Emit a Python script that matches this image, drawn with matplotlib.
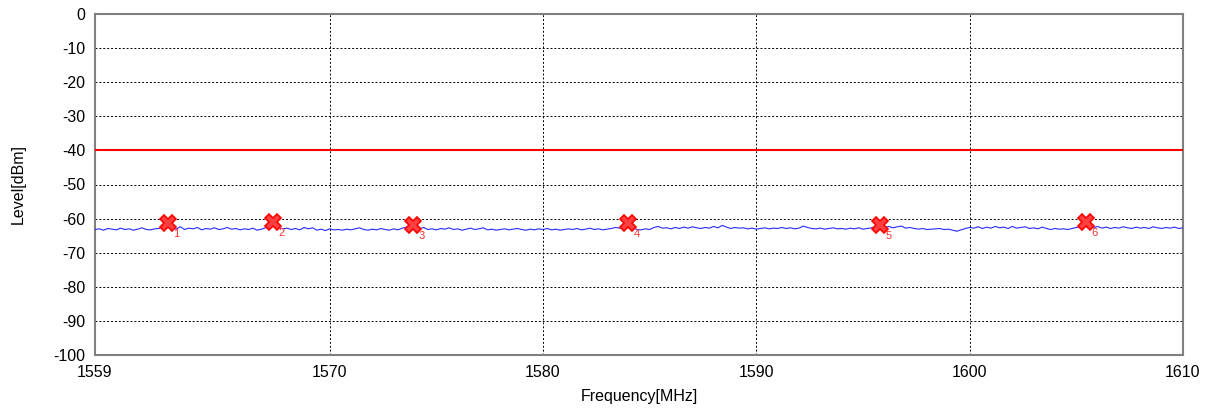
import numpy as np
import matplotlib
matplotlib.use("Agg")
import matplotlib.pyplot as plt

# ---- data ----
f_start, f_stop, f_step = 1559.0, 1610.0, 0.2
trace_dbm = [
    -63.2,-63.0,-63.4,-62.9,-63.1,-63.3,-62.8,-63.2,-63.0,-63.4,-63.1,-62.7,-63.2,-63.3,-63.0,-62.9,
    -62.5,-62.0,-62.6,-63.1,-62.4,-63.2,-62.8,-63.0,-62.6,-63.3,-62.9,-63.1,-62.7,-63.2,-63.0,-62.6,
    -63.1,-62.9,-63.3,-63.0,-63.2,-62.8,-63.4,-63.1,-62.7,-62.5,-62.2,-62.6,-63.0,-62.8,-63.2,-62.9,
    -63.3,-62.6,-63.0,-62.7,-63.4,-63.1,-63.5,-63.0,-63.3,-63.2,-63.4,-63.1,-63.3,-63.0,-62.7,-63.2,
    -63.4,-63.1,-63.3,-62.9,-63.2,-63.4,-63.0,-63.3,-62.8,-62.5,-62.3,-62.7,-63.1,-62.6,-63.2,-63.0,
    -63.3,-62.9,-63.1,-62.7,-63.2,-63.0,-63.4,-63.1,-62.8,-63.2,-63.0,-62.7,-63.3,-63.1,-63.4,-63.2,
    -63.0,-63.3,-63.1,-62.9,-63.2,-63.4,-63.1,-63.3,-63.0,-63.2,-62.9,-63.3,-63.1,-63.4,-63.2,-63.0,
    -63.2,-62.9,-63.3,-63.1,-62.8,-63.2,-63.0,-63.3,-63.1,-62.9,-62.6,-62.8,-62.5,-62.1,-62.6,-63.2,
    -63.3,-63.0,-63.2,-62.6,-62.3,-62.8,-62.7,-63.0,-62.6,-62.9,-62.5,-62.8,-62.4,-62.7,-62.9,-62.6,
    -62.8,-62.3,-62.7,-62.0,-62.5,-62.9,-62.6,-62.8,-62.7,-63.0,-62.8,-63.1,-62.9,-62.7,-63.0,-62.8,
    -62.9,-62.6,-62.9,-62.7,-63.0,-62.8,-62.2,-62.6,-62.9,-63.0,-62.8,-63.1,-62.9,-62.7,-63.0,-62.9,
    -63.1,-62.8,-63.0,-62.7,-63.1,-62.9,-62.7,-62.4,-62.2,-62.6,-62.3,-62.7,-62.4,-62.2,-62.8,-62.6,
    -62.9,-63.1,-62.9,-63.2,-63.1,-63.0,-62.9,-63.2,-63.1,-63.4,-63.7,-63.3,-62.9,-62.6,-62.8,-62.4,
    -62.9,-62.5,-62.8,-62.3,-62.7,-62.5,-62.9,-62.3,-62.8,-62.6,-62.4,-62.9,-62.7,-63.0,-62.5,-62.9,
    -63.2,-62.9,-63.1,-63.0,-63.2,-62.9,-62.6,-62.4,-62.1,-62.5,-62.7,-62.3,-62.8,-62.5,-62.9,-62.6,
    -62.8,-62.4,-62.7,-62.9,-62.5,-62.8,-62.6,-62.9,-62.4,-62.7,-62.9,-62.6,-62.8,-62.5,-62.9,-62.7,
]
limit_dbm = -40
marker_freq = [1562.4, 1567.35, 1573.9, 1584.0, 1595.8, 1605.45]
marker_level = [-61.2, -61.0, -61.9, -61.3, -61.9, -61.1]
marker_labels = ["1", "2", "3", "4", "5", "6"]
x_ticks = [1559, 1570, 1580, 1590, 1600, 1610]
y_ticks = list(range(-100, 1, 10))

freq = f_start + f_step * np.arange(len(trace_dbm))

plt.rcParams['font.family'] = ['Liberation Sans', 'DejaVu Sans']
plt.rcParams['axes.unicode_minus'] = False

fig = plt.figure(figsize=(12.15, 4.12), dpi=100)
ax = fig.add_axes([95/1215, 1-355/412, (1183-95)/1215, (355-14)/412])

ax.plot(freq, trace_dbm, color='#2a2aff', lw=0.8, zorder=3)
ax.axhline(limit_dbm, color='#ff0000', lw=1.5, zorder=3)
ax.plot(marker_freq, marker_level, linestyle='none', marker='X', markersize=12,
        markerfacecolor='#ff4040', markeredgecolor='#ff0000', markeredgewidth=1.2, zorder=4)
for fx, ly, lab in zip(marker_freq, marker_level, marker_labels):
    ax.annotate(lab, (fx, ly), xytext=(4, -10), textcoords='offset points',
                color='#ff3030', fontsize=8, zorder=5)

ax.set_xlim(f_start, f_stop)
ax.set_ylim(-100, 0)
ax.set_xticks(x_ticks)
ax.set_yticks(y_ticks)
ax.grid(True, color='black', linestyle=(0, (2, 2)), lw=0.7)
ax.tick_params(length=0, labelsize=11.5, pad=7)
for s in ax.spines.values():
    s.set_color('#808080')
    s.set_linewidth(1.5)

ax.set_xlabel('Frequency[MHz]', fontsize=11.5, va='center')
ax.set_ylabel('Level[dBm]', fontsize=11.5, va='center')
ax.xaxis.set_label_coords((639 - 95) / 1088, (355 - 397) / 341)
ax.yaxis.set_label_coords((18 - 95) / 1088, 0.5)

fig.savefig('out.png', dpi=100)
